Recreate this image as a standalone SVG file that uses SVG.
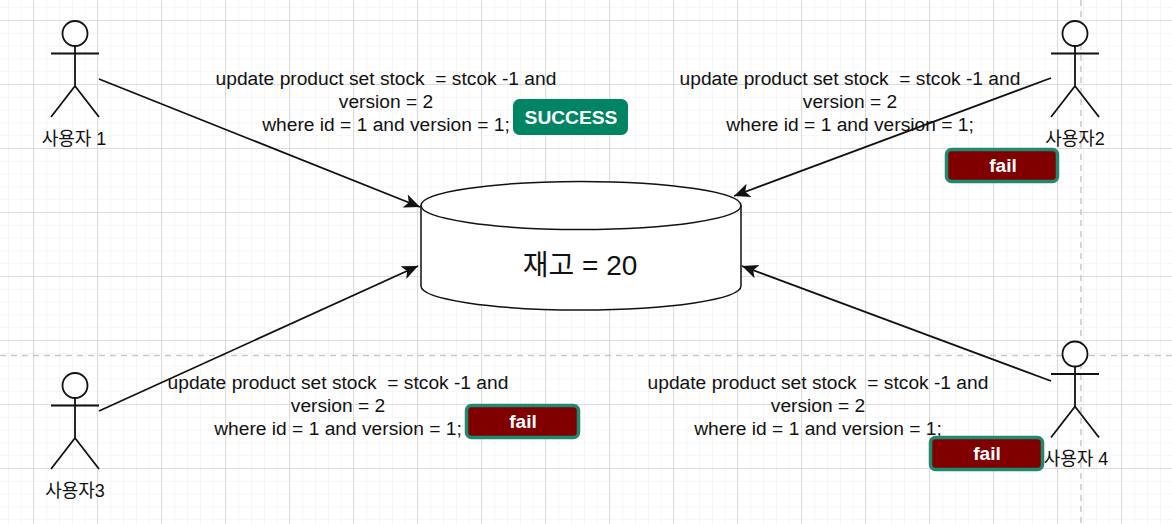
<svg xmlns="http://www.w3.org/2000/svg" width="1172" height="524" viewBox="0 0 1172 524">
<style>
.bg{fill:#fff}
.mi{stroke:#f5f5f5;stroke-width:1;fill:none}
.ma{stroke:#dcdcdc;stroke-width:1;fill:none}
.gd{stroke:#c8c8c8;stroke-width:1.5;stroke-dasharray:6 5;fill:none}
.s{stroke:#111;stroke-width:1.8;fill:none}
.w{stroke:#111;stroke-width:1.8;fill:#fff}
#db .s,#db .w{stroke-width:1.5}
text{font-family:"Liberation Sans","Noto Sans CJK KR",sans-serif;fill:#111;text-anchor:middle;white-space:pre}
.t{font-size:19.200px}
.a{font-size:18px}
.b{font-size:19.200px;font-weight:bold;fill:#fff}
.ok{fill:#008564;stroke:#008564;stroke-width:3}
.no{fill:#800000;stroke:#1f8a70;stroke-width:3.500}
</style>
<defs>
<marker id="ah" markerUnits="userSpaceOnUse" markerWidth="18" markerHeight="16" refX="17" refY="8" orient="auto"><path d="M1 1 L17 8 L1 15 L5 8 Z" fill="#111"/></marker>
<pattern id="gmi" width="12.8" height="12.8" patternUnits="userSpaceOnUse" patternTransform="translate(7.9 7.2)"><path class="mi" d="M.5 0V12.8M0 .5H12.8"/></pattern>
<pattern id="gma" width="64" height="64" patternUnits="userSpaceOnUse" patternTransform="translate(33 20)"><path class="ma" d="M.5 0V64M0 .5H64"/></pattern>
</defs>
<rect class="bg" width="1172" height="524"/>
<rect fill="url(#gmi)" width="1172" height="524"/>
<rect fill="url(#gma)" width="1172" height="524"/>
<path class="gd" d="M1081 0V524M0 355.500H1172"/>
<g id="connectors">
<path class="s" marker-end="url(#ah)" d="M99 79L420 207"/>
<path class="s" marker-end="url(#ah)" d="M1051 78L734 196"/>
<path class="s" marker-end="url(#ah)" d="M99 411L418 266"/>
<path class="s" marker-end="url(#ah)" d="M1051 381L742 266"/>
</g>
<g id="db">
<path class="w" d="M421 205.500C421 192.300 492.600 181.500 581 181.500C669.400 181.500 741 192.300 741 205.500V286C741 299.200 669.400 310 581 310C492.600 310 421 299.200 421 286Z"/>
<path class="s" d="M421 205.500C421 218.700 492.600 229.500 581 229.500C669.400 229.500 741 218.700 741 205.500"/>
<text x="580" y="274.500" style="font-size:28px">재고 = 20</text>
</g>
<g id="user1"><circle class="w" cx="75" cy="33.500" r="12.500"/><path class="s" d="M75 46V86M51 53.500H99M75 86L51 117M75 86L99 117"/><text class="a" x="74" y="145">사용자 1</text></g>
<g id="user2"><circle class="w" cx="1075" cy="33.500" r="12.500"/><path class="s" d="M1075 46V86M1051 53.500H1099M1075 86L1051 117M1075 86L1099 117"/><text class="a" x="1075" y="145">사용자2</text></g>
<g id="user3"><circle class="w" cx="75" cy="385.500" r="12.500"/><path class="s" d="M75 398V438M51 405.500H99M75 438L51 469M75 438L99 469"/><text class="a" x="75" y="497">사용자3</text></g>
<g id="user4"><circle class="w" cx="1075" cy="354" r="12.500"/><path class="s" d="M1075 366.500V406.500M1051 374H1099M1075 406.500L1051 437.500M1075 406.500L1099 437.500"/><text class="a" x="1076" y="465">사용자 4</text></g>
<g id="q1" class="t"><text x="386" y="84.500">update product set stock  = stcok -1 and</text><text x="386" y="107.500">version = 2</text><text x="386" y="130.500">where id = 1 and version = 1;</text></g>
<g id="q2" class="t"><text x="850" y="84.500">update product set stock  = stcok -1 and</text><text x="850" y="107.500">version = 2</text><text x="850" y="130.500">where id = 1 and version = 1;</text></g>
<g id="q3" class="t"><text x="338" y="388.500">update product set stock  = stcok -1 and</text><text x="338" y="411.500">version = 2</text><text x="338" y="434.500">where id = 1 and version = 1;</text></g>
<g id="q4" class="t"><text x="818" y="388.500">update product set stock  = stcok -1 and</text><text x="818" y="411.500">version = 2</text><text x="818" y="434.500">where id = 1 and version = 1;</text></g>
<g id="success"><rect class="ok" x="514.500" y="100.500" width="112" height="33" rx="5"/><text class="b" x="571" y="123.500">SUCCESS</text></g>
<g id="fail2"><rect class="no" x="946.500" y="149.500" width="111" height="32" rx="5"/><text class="b" x="1003" y="172">fail</text></g>
<g id="fail3"><rect class="no" x="466.500" y="405.500" width="112" height="32" rx="5"/><text class="b" x="523" y="428">fail</text></g>
<g id="fail4"><rect class="no" x="930.500" y="437.500" width="112" height="32" rx="5"/><text class="b" x="987" y="460">fail</text></g>
</svg>
